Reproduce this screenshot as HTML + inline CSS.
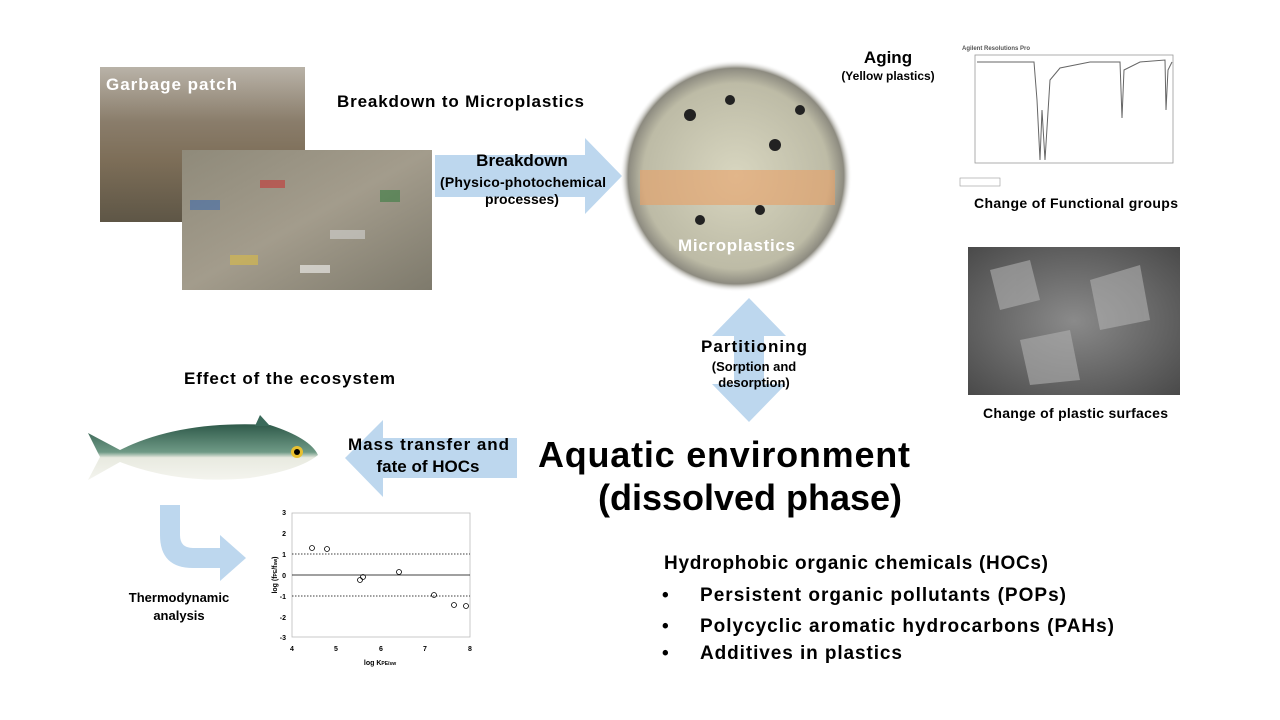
<!DOCTYPE html>
<html><head><meta charset="utf-8"><style>
body{margin:0;width:1280px;height:720px;background:#fff;overflow:hidden;font-family:"Liberation Sans",sans-serif}
svg{display:block}
text{font-family:"Liberation Sans",sans-serif;font-weight:bold;fill:#000}
</style></head><body>
<svg width="1280" height="720" viewBox="0 0 1280 720">
<defs>
<linearGradient id="g1" x1="0" y1="0" x2="0" y2="1"><stop offset="0" stop-color="#b9b3a8"/><stop offset="0.35" stop-color="#8a7d6b"/><stop offset="0.6" stop-color="#7d6e58"/><stop offset="1" stop-color="#5e5646"/></linearGradient>
<linearGradient id="g2" x1="0" y1="0" x2="1" y2="1"><stop offset="0" stop-color="#8f8a7a"/><stop offset="0.5" stop-color="#a39c8c"/><stop offset="1" stop-color="#7e7a6c"/></linearGradient>
<radialGradient id="mp" cx="0.5" cy="0.5" r="0.5"><stop offset="0" stop-color="#d8d6c0"/><stop offset="0.8" stop-color="#bdbba6"/><stop offset="0.93" stop-color="#8d8b80"/><stop offset="1" stop-color="#fff" stop-opacity="0"/></radialGradient>
<radialGradient id="sem" cx="0.5" cy="0.5" r="0.7"><stop offset="0" stop-color="#8a8a8a"/><stop offset="1" stop-color="#4a4a4a"/></radialGradient>
<linearGradient id="fish" x1="0" y1="0" x2="0" y2="1"><stop offset="0" stop-color="#2f5a4a"/><stop offset="0.5" stop-color="#6f9a86"/><stop offset="0.6" stop-color="#e8eae0"/><stop offset="1" stop-color="#f4f4ee"/></linearGradient>
</defs>
<rect x="100" y="67" width="205" height="155" fill="url(#g1)"/>
<rect x="182" y="150" width="250" height="140" fill="url(#g2)"/>
<g opacity="0.55">
<rect x="190" y="200" width="30" height="10" fill="#3a6ab0"/><rect x="260" y="180" width="25" height="8" fill="#c83030"/>
<rect x="330" y="230" width="35" height="9" fill="#d9d9d9"/><rect x="380" y="190" width="20" height="12" fill="#2f7a3a"/>
<rect x="230" y="255" width="28" height="10" fill="#e0c040"/><rect x="300" y="265" width="30" height="8" fill="#fff"/>
</g>
<text x="106" y="90" font-size="17" style="fill:#fff" textLength="131">Garbage patch</text>
<text x="337" y="107" font-size="17" textLength="247">Breakdown to Microplastics</text>
<polygon points="435,155 585,155 585,138 622,176 585,214 585,197 435,197" fill="#bdd7ee"/>
<text x="522" y="166" font-size="17" text-anchor="middle">Breakdown</text>
<text x="440" y="187" font-size="14" textLength="166">(Physico-photochemical</text>
<text x="522" y="204" font-size="14" text-anchor="middle">processes)</text>
<circle cx="736" cy="176" r="116" fill="url(#mp)"/>
<rect x="640" y="170" width="195" height="35" fill="#e7a066" opacity="0.6"/>
<g fill="#222"><circle cx="690" cy="115" r="6"/><circle cx="730" cy="100" r="5"/><circle cx="775" cy="145" r="6"/><circle cx="760" cy="210" r="5"/><circle cx="700" cy="220" r="5"/><circle cx="800" cy="110" r="5"/></g>
<text x="678" y="251" font-size="17" style="fill:#fff" textLength="117">Microplastics</text>
<text x="888" y="63" font-size="17" text-anchor="middle">Aging</text>
<text x="888" y="80" font-size="12" text-anchor="middle">(Yellow plastics)</text>
<text x="962" y="50" font-size="6" style="fill:#555">Agilent Resolutions Pro</text>
<rect x="975" y="55" width="198" height="108" fill="#fff" stroke="#999" stroke-width="0.8"/>
<polyline points="977,62 1034,62 1037,100 1040,160 1042,110 1045,160 1050,80 1060,68 1090,62 1120,62 1122,118 1124,70 1140,62 1165,60 1166,110 1168,70 1172,62" fill="none" stroke="#666" stroke-width="1"/>
<rect x="960" y="178" width="40" height="8" fill="none" stroke="#999" stroke-width="0.6"/>
<text x="974" y="208" font-size="14" textLength="204">Change of Functional groups</text>
<rect x="968" y="247" width="212" height="148" fill="url(#sem)"/>
<g fill="#b0b0b0" opacity="0.6"><polygon points="990,270 1030,260 1040,300 1000,310"/><polygon points="1090,280 1140,265 1150,320 1100,330"/><polygon points="1020,340 1070,330 1080,380 1030,385"/></g>
<text x="983" y="418" font-size="14" textLength="185">Change of plastic surfaces</text>
<polygon points="749,298 786,336 764,336 764,384 786,384 749,422 712,384 734,384 734,336 712,336" fill="#bdd7ee"/>
<text x="701" y="352" font-size="17" textLength="106">Partitioning</text>
<text x="754" y="371" font-size="13" text-anchor="middle">(Sorption and</text>
<text x="754" y="387" font-size="13" text-anchor="middle">desorption)</text>
<text x="184" y="384" font-size="17" textLength="211">Effect of the ecosystem</text>
<path d="M88,433 L120,450 Q180,420 270,425 Q310,438 318,455 Q300,470 250,478 Q180,485 120,462 L88,480 L100,457 Z" fill="url(#fish)"/>
<circle cx="297" cy="452" r="6" fill="#e8c030"/><circle cx="297" cy="452" r="3" fill="#000"/>
<polygon points="260,415 270,426 255,426" fill="#3a6a5a"/>
<polygon points="517,438 383,438 383,420 345,458 383,497 383,478 517,478" fill="#bdd7ee"/>
<text x="348" y="450" font-size="17" textLength="161">Mass transfer and</text>
<text x="428" y="472" font-size="17" text-anchor="middle">fate of HOCs</text>
<path d="M170,505 L170,535 Q170,548 183,548 L210,548 L210,535 L236,558 L210,581 L210,568 L183,568 Q150,568 150,535 L150,505 Z" fill="#bdd7ee" transform="translate(10,0)"/>
<text x="179" y="602" font-size="13" text-anchor="middle">Thermodynamic</text>
<text x="179" y="620" font-size="13" text-anchor="middle">analysis</text>
<g>
<rect x="292" y="513" width="178" height="124" fill="none" stroke="#bbb" stroke-width="0.8"/>
<line x1="292" y1="575" x2="470" y2="575" stroke="#000" stroke-width="0.8"/>
<line x1="292" y1="554" x2="470" y2="554" stroke="#000" stroke-width="0.7" stroke-dasharray="1.5,1.5"/>
<line x1="292" y1="596" x2="470" y2="596" stroke="#000" stroke-width="0.7" stroke-dasharray="1.5,1.5"/>
<g fill="none" stroke="#000" stroke-width="0.8"><circle cx="312" cy="548" r="2.5"/><circle cx="327" cy="549" r="2.5"/><circle cx="360" cy="580" r="2.5"/><circle cx="363" cy="577" r="2.5"/><circle cx="399" cy="572" r="2.5"/><circle cx="434" cy="595" r="2.5"/><circle cx="454" cy="605" r="2.5"/><circle cx="466" cy="606" r="2.5"/></g>
<g font-size="7" text-anchor="end"><text x="286" y="515" font-weight="normal">3</text><text x="286" y="536" font-weight="normal">2</text><text x="286" y="557" font-weight="normal">1</text><text x="286" y="578" font-weight="normal">0</text><text x="286" y="599" font-weight="normal">-1</text><text x="286" y="620" font-weight="normal">-2</text><text x="286" y="640" font-weight="normal">-3</text></g>
<g font-size="7" text-anchor="middle"><text x="292" y="651" font-weight="normal">4</text><text x="336" y="651" font-weight="normal">5</text><text x="381" y="651" font-weight="normal">6</text><text x="425" y="651" font-weight="normal">7</text><text x="470" y="651" font-weight="normal">8</text></g>
<text x="380" y="665" font-size="7" text-anchor="middle" font-weight="normal">log K<tspan font-size="5">PE/sw</tspan></text>
<text x="277" y="575" font-size="7" text-anchor="middle" font-weight="normal" transform="rotate(-90 277 575)">log (f<tspan font-size="5">PE</tspan>/f<tspan font-size="5">sw</tspan>)</text>
</g>
<text x="538" y="467" font-size="36" textLength="372">Aquatic environment</text>
<text x="598" y="510" font-size="36" textLength="304">(dissolved phase)</text>
<text x="664" y="569" font-size="19" textLength="384">Hydrophobic organic chemicals (HOCs)</text>
<text x="662" y="601" font-size="19">•</text><text x="700" y="601" font-size="19" textLength="366">Persistent organic pollutants (POPs)</text>
<text x="662" y="632" font-size="19">•</text><text x="700" y="632" font-size="19" textLength="414">Polycyclic aromatic hydrocarbons (PAHs)</text>
<text x="662" y="659" font-size="19">•</text><text x="700" y="659" font-size="19" textLength="202">Additives in plastics</text>
</svg>
</body></html>
